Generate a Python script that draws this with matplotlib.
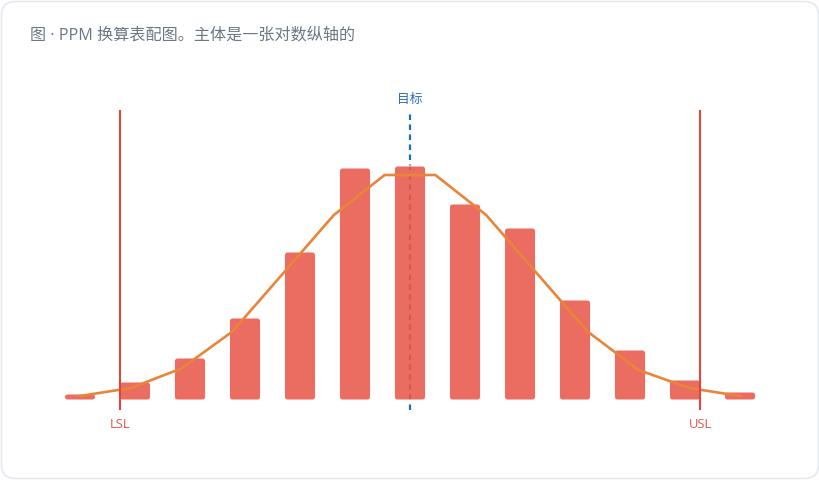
import numpy as np
import matplotlib
matplotlib.use("Agg")
import matplotlib.pyplot as plt
from matplotlib.patches import FancyBboxPatch
from matplotlib.transforms import IdentityTransform

plt.rcParams['font.family'] = ['Open Sans', 'Noto Sans CJK SC', 'DejaVu Sans']

# histogram bins (index of bin) and counts
bins = list(range(13))
counts = [3, 9, 21, 41, 74, 116, 117, 98, 86, 50, 25, 10, 4]

# fitted curve, 14 points spread over the same range
curve_y = [2, 6, 15.8, 34.2, 63.3, 92.5, 112.5, 112.5, 92.5, 63.3, 34.2, 15, 6, 2]
curve_x = np.linspace(bins[0], bins[-1], len(curve_y))

# spec limits and target, in bin units
lsl = 0.727
usl = 11.273
target = 6.0

title = "图 · PPM 换算表配图。主体是一张对数纵轴的"

fig = plt.figure(figsize=(8.2, 4.8), dpi=100)
fig.patch.set_facecolor("white")

# card frame
card = FancyBboxPatch((1.5, 1.5), 817, 477, boxstyle="round,pad=0,rounding_size=14",
                      transform=IdentityTransform(), facecolor="white",
                      edgecolor="#e6e9ef", linewidth=1.2, zorder=-5)
fig.patches.append(card)

fig.text(30 / 820, 1 - 35 / 480, title, fontsize=11.6, color="#6b7785",
         ha="left", va="center")

# axes: 40..780 px wide, baseline at y=400 px, top at y=100 px
ax = fig.add_axes([40 / 820, 80 / 480, 740 / 820, 300 / 480])
ax.set_xlim(-0.727, 12.727)
ax.set_ylim(0, 150)
ax.axis("off")

# target line (behind bars)
ax.vlines(target, -5, 145, colors="#1f6fb5", linewidth=1.6,
          linestyles=(0, (2.5, 2)), clip_on=False, zorder=1)
ax.text(target, 150.5, "目标", ha="center", va="center", fontsize=9.2,
        color="#2a6db3", clip_on=False)

bars = ax.bar(bins, counts, width=0.565, color="#e9584a", alpha=0.0)
# rounded copies of the bars
ratio = 27.5  # y units per x unit for equal pixel radius
for b in bars:
    x0, y0 = b.get_x(), b.get_y()
    w, h = b.get_width(), b.get_height()
    rr = FancyBboxPatch((x0, y0), w, h, boxstyle="round,pad=0,rounding_size=0.055",
                        mutation_aspect=ratio, facecolor="#e9584a", alpha=0.88,
                        edgecolor=(1, 1, 1, 0.35), linewidth=0.8, zorder=2)
    ax.add_patch(rr)

ax.plot(curve_x, curve_y, color="#e8853a", linewidth=1.9, zorder=4,
        solid_joinstyle="round")

for xv, lab in [(lsl, "LSL"), (usl, "USL")]:
    ax.vlines(xv, -5, 145, colors="#e0463a", linewidth=1.5, clip_on=False, zorder=5)
    ax.text(xv, -12.5, lab, ha="center", va="center", fontsize=9.4,
            color="#e0574b", clip_on=False)

fig.savefig("out.png", dpi=100, facecolor="white")
